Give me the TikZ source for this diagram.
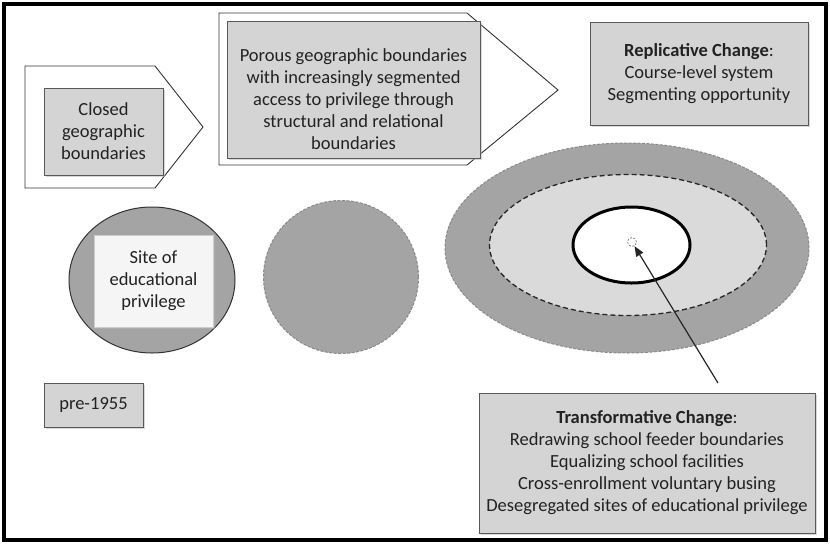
\documentclass[tikz,border=0pt]{standalone}
\usepackage{fontspec}
\setmainfont{Carlito}
\usepackage{xcolor}
\usepackage{tikz}
\usetikzlibrary{shapes.geometric,shadows,arrows.meta}

\definecolor{boxgrey}{HTML}{D4D4D4}
\definecolor{ringgrey}{HTML}{A4A4A4}
\definecolor{linegrey}{HTML}{8A8A8A}
\definecolor{paleband}{HTML}{DADADA}
\definecolor{inkgrey}{HTML}{222222}

\tikzset{
    greybox/.style={draw=black!65, line width=1pt, fill=boxgrey, align=center, text=inkgrey, inner sep=2pt,
        drop shadow={shadow xshift=1.5pt, shadow yshift=-1.5pt, fill=black!30}},
    arrowshape/.style={draw=black!80, line width=0.9pt, fill=white},
    zone/.style={ellipse, inner sep=0pt, outer sep=0pt},
    greydash/.style={draw=linegrey, line width=1pt, dash pattern=on 3pt off 1.5pt},
    plaintext/.style={align=center, text=inkgrey}
}

\begin{document}
\begin{tikzpicture}[x=1pt, y=-1pt, font=\fontsize{18.5}{22}\selectfont]
        \useasboundingbox (0,0) rectangle (830,544);
        % Frame
        \draw[line width=4pt] (4,4) rectangle (826,540);

        % Closed boundaries
        \draw[arrowshape] (25,66) -- (155,66) -- (203,127) -- (155,188) -- (25,188) -- cycle;
        \node[greybox, minimum width=119pt, minimum height=87pt] (closed) at (103.5,131.5) {Closed\\geographic\\boundaries};

        % Porous boundaries
        \draw[arrowshape] (219,13) -- (467,13) -- (558,90) -- (467,165) -- (219,165) -- cycle;
        \node[greybox, minimum width=253pt, minimum height=137pt] (porousbox) at (353.5,89.5) {};
        \node[plaintext] (porous) at (353.5,99) {Porous geographic boundaries\\with increasingly segmented\\access to privilege through\\structural and relational\\boundaries};

        % Replicative change
        \node[greybox, minimum width=218pt, minimum height=103pt] (replicative) at (699,73.5) {\textbf{Replicative Change}:\\Course-level system\\Segmenting opportunity};

        % Site of privilege, closed
        \node[zone, draw=black!80, line width=1pt, fill=ringgrey, minimum width=166pt, minimum height=146pt] (closedsite) at (152,280) {};
        \node[greybox, draw=black!20, fill=white!96!black, minimum width=119pt, minimum height=92pt] (site) at (153.5,281) {Site of\\educational\\privilege};

        % Site of privilege, porous
        \node[zone, greydash, fill=ringgrey, minimum width=155pt, minimum height=153pt] (poroussite) at (341,277) {};

        % Site of privilege, segmented
        \node[zone, greydash, fill=ringgrey, minimum width=364pt, minimum height=210pt] (outerband) at (627,248) {};
        \node[zone, draw=black!85, line width=1.3pt, dash pattern=on 5pt off 3pt, fill=paleband, minimum width=277pt, minimum height=141pt] (middleband) at (628,245) {};
        \node[zone, draw=black, line width=3pt, fill=white, minimum width=117pt, minimum height=76pt] (core) at (631.5,245) {};
        \node[circle, draw=linegrey, line width=0.8pt, dash pattern=on 2pt off 1.5pt, inner sep=0pt, minimum size=9pt] (seed) at (632,242) {};

        % pre-1955
        \node[greybox, minimum width=99pt, minimum height=44pt] (era) at (93.5,405) {pre-1955};

        % Transformative change
        \node[greybox, minimum width=336pt, minimum height=140pt] (transformative) at (647,463) {\textbf{Transformative Change}:\\Redrawing school feeder boundaries\\Equalizing school facilities\\Cross-enrollment voluntary busing\\Desegregated sites of educational privilege};
        \coordinate (tail) at (718,383);
        \draw[-{Triangle[length=10pt, width=8pt]}, line width=1.2pt, black!85] (tail) -- (seed);
\end{tikzpicture}
\end{document}
